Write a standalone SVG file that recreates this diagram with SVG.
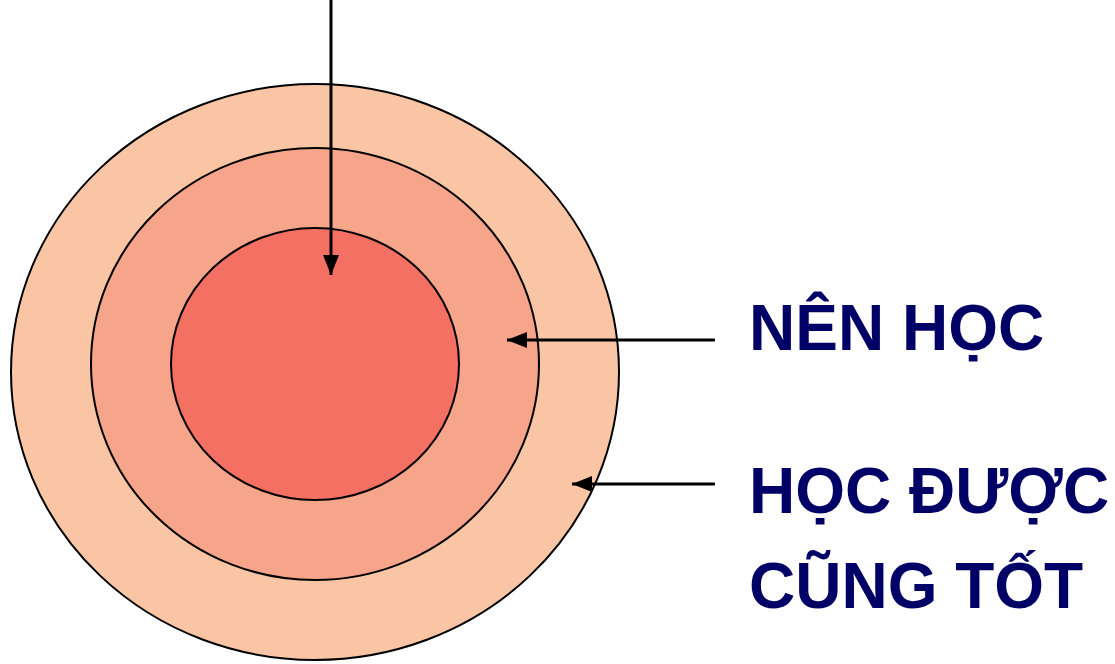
<svg xmlns="http://www.w3.org/2000/svg" width="1115" height="664" viewBox="0 0 1115 664">
<style>
.ring{stroke:#000;stroke-width:2}
.conn{stroke:#000;stroke-width:3;fill:none}
.lbl{font-family:"Liberation Sans",Arial,sans-serif;font-weight:bold;font-size:64px;fill:#000066}
</style>
<defs>
<marker id="ah" viewBox="0 0 20 16" refX="20" refY="8" markerUnits="userSpaceOnUse" markerWidth="20" markerHeight="16" orient="auto">
<path d="M0,0 L20,8 L0,16 Z" fill="#000"/>
</marker>
</defs>
<rect width="1115" height="664" fill="#fff"/>
<g id="outer"><ellipse class="ring" cx="315" cy="372" rx="304" ry="288" fill="#F9C5A4"/></g>
<g id="middle"><ellipse class="ring" cx="315" cy="364" rx="224" ry="216" fill="#F6A48A"/></g>
<g id="inner"><ellipse class="ring" cx="315" cy="364" rx="144" ry="136" fill="#F37062"/></g>
<g id="connectors">
<line class="conn" x1="331" y1="0" x2="331" y2="275" marker-end="url(#ah)"/>
<line class="conn" x1="715" y1="340" x2="507" y2="340" marker-end="url(#ah)"/>
<line class="conn" x1="715" y1="484" x2="572" y2="484" marker-end="url(#ah)"/>
</g>
<g id="label-nen-hoc"><text class="lbl" x="749" y="350">NÊN HỌC</text></g>
<g id="label-hoc-duoc"><text class="lbl" x="749" y="513">HỌC ĐƯỢC</text><text class="lbl" x="749" y="608">CŨNG TỐT</text></g>
</svg>
